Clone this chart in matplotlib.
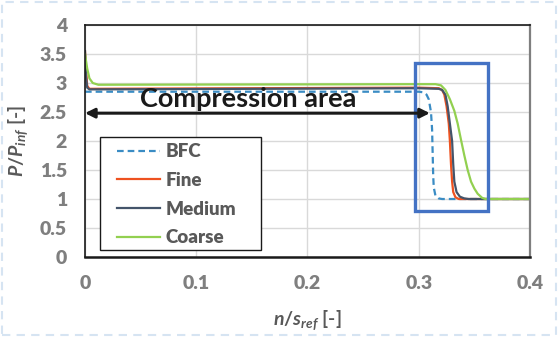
import matplotlib
matplotlib.use('Agg')
import matplotlib.pyplot as plt
from matplotlib.patches import Rectangle

plt.rcParams['font.family'] = ['Lato', 'DejaVu Sans']
plt.rcParams['mathtext.fontset'] = 'custom'
plt.rcParams['mathtext.it'] = 'Lato:italic:bold'
plt.rcParams['mathtext.rm'] = 'Lato:bold'

# data
bfc_x = [0, 0.300, 0.304, 0.307, 0.309, 0.311, 0.312, 0.3125, 0.313, 0.3135, 0.315, 0.318, 0.321, 0.4]
bfc_y = [2.85, 2.85, 2.84, 2.80, 2.72, 2.50, 2.20, 1.80, 1.40, 1.20, 1.06, 1.01, 1.00, 1.00]

fine_x = [0, 0.001, 0.002, 0.004, 0.300, 0.318, 0.321, 0.323, 0.325, 0.327, 0.328, 0.329, 0.330,
          0.331, 0.333, 0.336, 0.4]
fine_y = [3.55, 3.20, 2.95, 2.90, 2.92, 2.91, 2.88, 2.80, 2.60, 2.30, 2.00, 1.60, 1.30,
          1.12, 1.03, 1.00, 1.00]

medium_x = [0, 0.001, 0.002, 0.004, 0.300, 0.318, 0.321, 0.324, 0.326, 0.328, 0.330, 0.331, 0.332,
            0.334, 0.337, 0.341, 0.345, 0.4]
medium_y = [3.55, 3.10, 2.92, 2.89, 2.91, 2.90, 2.88, 2.80, 2.60, 2.30, 2.00, 1.60, 1.30,
            1.12, 1.04, 1.01, 1.00, 1.00]

coarse_x = [0, 0.002, 0.004, 0.007, 0.012, 0.300, 0.315, 0.320, 0.324, 0.328, 0.332, 0.335, 0.338,
            0.341, 0.344, 0.347, 0.350, 0.353, 0.357, 0.360, 0.4]
coarse_y = [3.50, 3.25, 3.08, 3.00, 2.97, 2.98, 2.98, 2.96, 2.88, 2.72, 2.52, 2.30, 2.02,
            1.75, 1.50, 1.30, 1.18, 1.09, 1.02, 1.00, 1.00]

box_x = [0.2966, 0.3622]
box_y = [0.79, 3.345]
arrow_x = [0.0, 0.31]
arrow_y = 2.48

fig = plt.figure(figsize=(5.58, 3.38), dpi=100)
ax = fig.add_axes([0.1523, 0.2396, 0.7975, 0.6864])

ax.plot(bfc_x, bfc_y, color='#3A8CC4', lw=1.6, dashes=(3, 1.8), label='BFC')
ax.plot(fine_x, fine_y, color='#EE5220', lw=1.6, label='Fine')
ax.plot(medium_x, medium_y, color='#44546A', lw=1.6, label='Medium')
ax.plot(coarse_x, coarse_y, color='#92D050', lw=1.6, label='Coarse')

ax.add_patch(Rectangle((box_x[0], box_y[0]), box_x[1] - box_x[0], box_y[1] - box_y[0],
                       fill=False, edgecolor='#4472C4', lw=2.4, zorder=5))

ax.annotate('', xy=(arrow_x[0], arrow_y), xytext=(arrow_x[1], arrow_y),
            arrowprops=dict(arrowstyle='<|-|>', color='#1A1A1A', lw=2.2,
                            mutation_scale=14, shrinkA=0, shrinkB=0), zorder=6)
ax.text(0.1465, 2.72, 'Compression area', ha='center', va='center',
        fontsize=19.5, fontweight='bold', color='#1A1A1A', zorder=6)

ax.set_xlim(0, 0.4)
ax.set_ylim(0, 4)
ax.set_xticks([0, 0.1, 0.2, 0.3, 0.4])
ax.set_xticklabels(['0', '0.1', '0.2', '0.3', '0.4'])
ax.set_yticks([0, 0.5, 1, 1.5, 2, 2.5, 3, 3.5, 4])
ax.set_yticklabels(['0', '0.5', '1', '1.5', '2', '2.5', '3', '3.5', '4'])
ax.grid(True, color='#D9D9D9', lw=1)
ax.set_axisbelow(True)
ax.tick_params(length=0, labelsize=14, labelcolor='#7F7F7F', pad=13)
for lab in ax.get_xticklabels() + ax.get_yticklabels():
    lab.set_fontweight('heavy')

ax.set_xlabel(r'$n/s_{ref}$ [-]', fontsize=14, fontweight='bold', color='#595959', labelpad=12)
ax.set_ylabel(r'$P/P_{inf}$ [-]', fontsize=14, fontweight='bold', color='#595959', labelpad=6)

for side in ['left', 'top']:
    ax.spines[side].set_color('#1A1A1A')
    ax.spines[side].set_linewidth(1.2)
ax.spines['bottom'].set_color('#1A1A1A')
ax.spines['bottom'].set_linewidth(1.8)
ax.spines['right'].set_color('#7F7F7F')
ax.spines['right'].set_linewidth(1.6)

# legend frame drawn separately (wider side padding than top/bottom, like the reference)
ax.add_patch(Rectangle((0.0337, 0.030), 0.3618, 0.487, transform=ax.transAxes, facecolor='white',
                       edgecolor='#1A1A1A', lw=1.0, zorder=7))
leg = ax.legend(loc='upper left', bbox_to_anchor=(0.072, 0.49), fontsize=13.5, frameon=False,
                handlelength=2.3, borderpad=0, labelspacing=0.62, handletextpad=0.3,
                borderaxespad=0)
leg.set_zorder(8)
for t in leg.get_texts():
    t.set_fontweight('heavy')
    t.set_color('#595959')

fig.patches.append(Rectangle((0.003, 0.008), 0.994, 0.986, transform=fig.transFigure, fill=False,
                             edgecolor='#D6E4F2', lw=1.5, ls=(0, (4, 3))))

fig.savefig('out.png', dpi=100)
